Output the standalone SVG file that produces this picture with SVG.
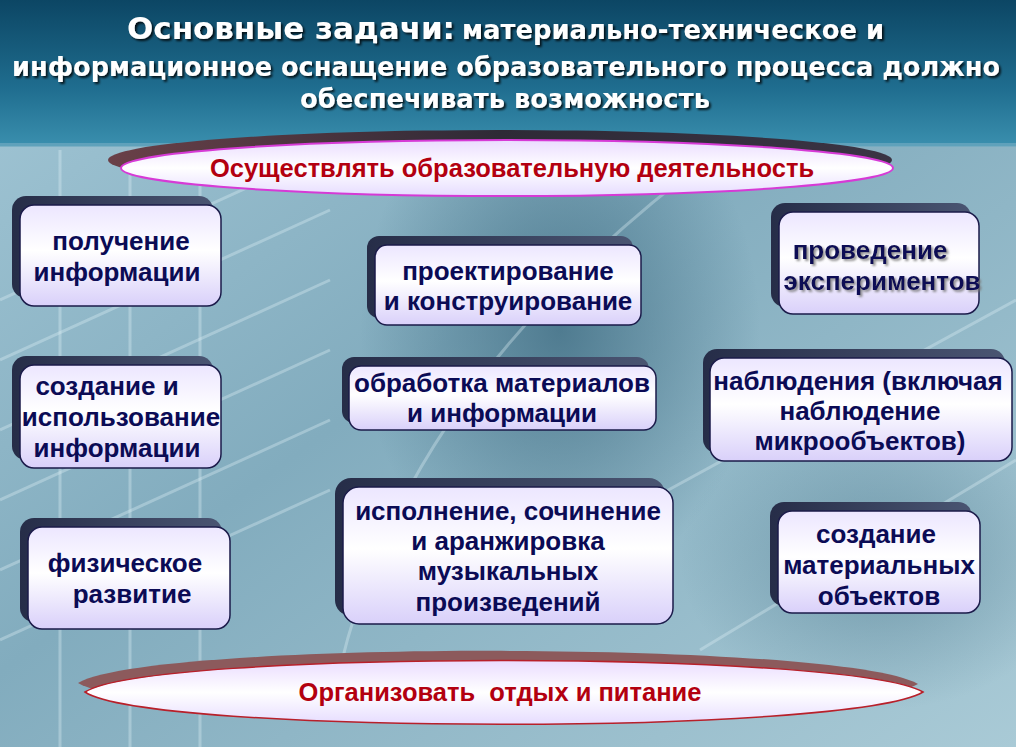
<svg xmlns="http://www.w3.org/2000/svg" width="1016" height="747" viewBox="0 0 1016 747">
<defs>
<linearGradient id="bg" x1="0" y1="0" x2="1" y2="1">
<stop offset="0" stop-color="#a3c7d6"/>
<stop offset="0.45" stop-color="#82acbe"/>
<stop offset="1" stop-color="#a9cad6"/>
</linearGradient>
<linearGradient id="hdr" x1="0" y1="0" x2="0" y2="1">
<stop offset="0" stop-color="#0c4664"/>
<stop offset="0.6" stop-color="#1f6d8f"/>
<stop offset="1" stop-color="#3a8fae"/>
</linearGradient>
<radialGradient id="dark" cx="0.5" cy="0.5" r="0.5">
<stop offset="0" stop-color="#3d6a80" stop-opacity="0.75"/>
<stop offset="1" stop-color="#3d6a80" stop-opacity="0"/>
</radialGradient>
<linearGradient id="boxf" x1="0" y1="0" x2="0" y2="1">
<stop offset="0" stop-color="#ece6ff"/>
<stop offset="0.45" stop-color="#ffffff"/>
<stop offset="1" stop-color="#d9d0fa"/>
</linearGradient>
<linearGradient id="shd" x1="0" y1="0" x2="1" y2="0">
<stop offset="0" stop-color="#262d48"/>
<stop offset="1" stop-color="#4a5572"/>
</linearGradient>
<linearGradient id="ellf" x1="0" y1="0" x2="0" y2="1">
<stop offset="0" stop-color="#eadcff"/>
<stop offset="0.5" stop-color="#ffffff"/>
<stop offset="1" stop-color="#e6dcff"/>
</linearGradient>
<linearGradient id="topsh" x1="0" y1="0" x2="1" y2="0">
<stop offset="0" stop-color="#6a4048"/>
<stop offset="0.5" stop-color="#2e2a36"/>
<stop offset="1" stop-color="#3a3444"/>
</linearGradient>
<filter id="ts" x="-5%" y="-20%" width="110%" height="140%">
<feDropShadow dx="2" dy="2" stdDeviation="1" flood-color="#000" flood-opacity="0.8"/>
</filter>
<filter id="ts2" x="-5%" y="-20%" width="110%" height="140%">
<feDropShadow dx="2" dy="2" stdDeviation="0.8" flood-color="#777" flood-opacity="0.8"/>
</filter>
</defs>
<style>
.box{fill:url(#boxf);stroke:#1b1b4a;stroke-width:1.5}
.sh{fill:url(#shd)}
.bt{font-family:"Liberation Sans",Arial,sans-serif;font-weight:bold;font-size:26px;fill:#0b0b55;text-anchor:middle}
.hd{font-family:"DejaVu Sans Condensed","DejaVu Sans",sans-serif;font-weight:bold;fill:#ffffff;filter:url(#ts)}
.et{font-family:"Liberation Sans",Arial,sans-serif;font-weight:bold;font-size:25.5px;fill:#b30010;text-anchor:middle;white-space:pre}
.ln{stroke:#dff0f6;stroke-opacity:0.35;stroke-width:3;fill:none}
</style>
<rect x="0" y="0" width="1016" height="747" fill="url(#bg)"/>
<ellipse cx="560" cy="330" rx="200" ry="260" fill="url(#dark)"/>
<ellipse cx="880" cy="560" rx="200" ry="150" fill="url(#dark)" opacity="0.6"/>
<g class="ln">
<path d="M0 300 L330 150"/><path d="M0 360 L330 210"/><path d="M0 430 L330 280"/><path d="M0 500 L330 350"/><path d="M0 570 L330 420"/><path d="M0 640 L330 490"/>
<path d="M60 150 L60 747"/><path d="M130 150 L130 747"/><path d="M200 150 L200 747"/>
<path d="M330 720 Q 380 400 720 150"/>
<path d="M650 500 L1016 300"/><path d="M700 650 L1016 460"/>
</g>
<rect x="0" y="0" width="1016" height="146" fill="url(#hdr)"/>
<rect x="0" y="143" width="1016" height="4" fill="#6fa9c0" opacity="0.7"/>
<g id="title">
<text class="hd" x="127" y="39" font-size="31" textLength="328" lengthAdjust="spacingAndGlyphs">Основные задачи:</text>
<text class="hd" x="462" y="39" font-size="26" textLength="422" lengthAdjust="spacingAndGlyphs">материально-техническое и</text>
<text class="hd" x="12" y="76" font-size="27" textLength="988" lengthAdjust="spacingAndGlyphs">информационное оснащение образовательного процесса должно</text>
<text class="hd" x="300" y="108" font-size="27" textLength="410" lengthAdjust="spacingAndGlyphs">обеспечивать возможность</text>
</g>
<g id="top-ellipse">
<ellipse cx="500" cy="160" rx="392" ry="30" fill="url(#topsh)"/>
<ellipse cx="507" cy="168" rx="386" ry="28" fill="url(#ellf)" stroke="#d63ad6" stroke-width="2"/>
<text class="et" x="512" y="177">Осуществлять образовательную деятельность</text>
</g>
<g id="n1">
<rect class="sh" x="12" y="196" width="201" height="102" rx="14"/>
<rect class="box" x="20" y="205" width="201" height="101" rx="14"/>
<text class="bt" x="121" y="250">получение</text>
<text class="bt" x="117" y="281">информации</text>
</g>
<g id="n2">
<rect class="sh" x="12" y="356" width="201" height="104" rx="14"/>
<rect class="box" x="20" y="365" width="201" height="103" rx="14"/>
<text class="bt" x="107" y="395">создание и</text>
<text class="bt" x="121" y="426">использование</text>
<text class="bt" x="117" y="457">информации</text>
</g>
<g id="n3">
<rect class="sh" x="20" y="518" width="202" height="104" rx="14"/>
<rect class="box" x="28" y="527" width="202" height="102" rx="14"/>
<text class="bt" x="125" y="572">физическое</text>
<text class="bt" x="132" y="603">развитие</text>
</g>
<g id="n4">
<rect class="sh" x="367" y="236" width="266" height="82" rx="12"/>
<rect class="box" x="375" y="245" width="266" height="80" rx="12"/>
<text class="bt" x="508" y="280">проектирование</text>
<text class="bt" x="508" y="310">и конструирование</text>
</g>
<g id="n5">
<rect class="sh" x="342" y="357" width="307" height="66" rx="12"/>
<rect class="box" x="349" y="366" width="307" height="64" rx="12"/>
<text class="bt" x="502" y="392">обработка материалов</text>
<text class="bt" x="502" y="422">и информации</text>
</g>
<g id="n6">
<rect class="sh" x="335" y="478" width="330" height="138" rx="16"/>
<rect class="box" x="343" y="487" width="330" height="137" rx="16"/>
<text class="bt" x="508" y="520">исполнение, сочинение</text>
<text class="bt" x="508" y="550">и аранжировка</text>
<text class="bt" x="508" y="580">музыкальных</text>
<text class="bt" x="508" y="611">произведений</text>
</g>
<g id="n7">
<rect class="sh" x="771" y="203" width="200" height="104" rx="14"/>
<rect class="box" x="779" y="212" width="200" height="102" rx="14"/>
<text class="bt" x="870" y="259" filter="url(#ts2)">проведение</text>
<text class="bt" x="882" y="290" filter="url(#ts2)">экспериментов</text>
</g>
<g id="n8">
<rect class="sh" x="703" y="349" width="302" height="104" rx="14"/>
<rect class="box" x="710" y="358" width="302" height="103" rx="14"/>
<text class="bt" x="858" y="390">наблюдения (включая</text>
<text class="bt" x="860" y="420">наблюдение</text>
<text class="bt" x="860" y="450">микрообъектов)</text>
</g>
<g id="n9">
<rect class="sh" x="770" y="502" width="202" height="104" rx="14"/>
<rect class="box" x="778" y="511" width="202" height="102" rx="14"/>
<text class="bt" x="876" y="543">создание</text>
<text class="bt" x="879" y="574">материальных</text>
<text class="bt" x="879" y="605">объектов</text>
</g>
<g id="bottom-ellipse">
<path d="M78 683 C 150 640, 840 640, 918 684 C 840 725, 150 725, 78 683 Z" fill="#8c5a5c"/>
<path d="M85 692 C 150 650, 850 650, 923 692 C 850 735, 150 735, 85 692 Z" fill="url(#ellf)" stroke="#b8202a" stroke-width="1.5"/>
<text class="et" x="500" y="701">Организовать  отдых и питание</text>
</g>
<g id="connectors"></g>
</svg>
